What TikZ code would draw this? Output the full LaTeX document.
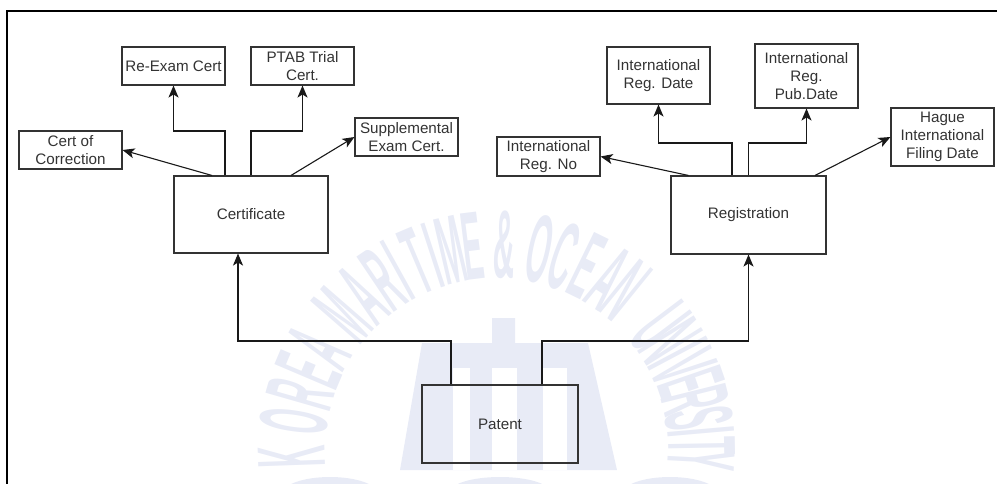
\documentclass[tikz,border=0pt]{standalone}
\usepackage{fontspec}
\setmainfont{Liberation Sans}
\usetikzlibrary{arrows.meta}
\definecolor{ink}{HTML}{333333}
\definecolor{wmark}{HTML}{E8EBF6}
\tikzset{
  x=1pt,y=-1pt,
  box/.style={draw=ink,line width=1.05pt,text=ink,inner sep=0pt,align=center,
    font=\fontsize{15.2}{18}\selectfont,minimum width=#1},
  box/.default=103pt,
  link/.style={draw=black!90,line width=1.1pt,-{Stealth[length=12pt,width=10pt,inset=3pt]}},
  wmletter/.style={text=wmark,inner sep=0pt,font=\fontsize{97}{97}\selectfont\bfseries},
}
\begin{document}
\begin{tikzpicture}
\useasboundingbox (0,0) rectangle (997,484);
% watermark
\begin{scope}
\clip (0,0) rectangle (997,484);
\fill[wmark] (422,343) -- (492,343) -- (492,318) -- (515,318) -- (515,343) -- (588,343) -- (617,470) -- (400,470) -- cycle;
\fill[white] (453,368) rectangle (470,470);
\fill[white] (492,368) rectangle (517,470);
\fill[white] (543,368) rectangle (567,470);
\fill[wmark] (500,492) ellipse (50 and 15);
\fill[wmark] (330,494) ellipse (48 and 17);
\fill[wmark] (670,494) ellipse (48 and 17);
\foreach \ch/\ang [count=\n] in {K/182,O/172,R/164,E/157,A/150,M/139,A/131,R/124,I/119,T/113,I/108,M/103,E/97,\&/88,O/78,C/71,E/64,A/57,N/51,U/37,N/32,I/28,V/24,E/19,R/14,S/9,I/5,T/1,Y/-3}
  \node[wmletter,rotate={\ang-90}] (wm\n) at ({497+205*cos(\ang)},{450-205*sin(\ang)}) {\scalebox{0.31}[1]{\ch}};
\end{scope}
% frame
\coordinate (fa) at (6.5,484);
\coordinate (fb) at (6.5,11);
\coordinate (fc) at (997,11);
\draw[black,line width=2pt] (fa) -- (fb) -- (fc);
% boxes
\node[box,minimum height=38pt] (rex) at (173.5,66) {Re-Exam Cert};
\node[box,minimum height=38pt] (ptab) at (302.5,66) {PTAB Trial\\Cert.};
\node[box,minimum height=38pt] (cor) at (70.5,150) {Cert of\\Correction};
\node[box,minimum height=38pt] (sup) at (406.5,137) {Supplemental\\Exam Cert.};
\node[box=154pt,minimum height=77pt] (cert) at (251,214.5) {Certificate};
\node[box,minimum height=57pt] (ird) at (658.5,75.5) {International\\Reg. Date};
\node[box,minimum height=64pt] (irp) at (806.5,76) {International\\Reg.\\Pub.Date};
\node[box,minimum height=39pt] (irn) at (548.5,156.5) {International\\Reg. No};
\node[box,minimum height=58pt] (hag) at (942.5,137) {Hague\\International\\Filing Date};
\node[box=155pt,minimum height=78pt] (reg) at (748.5,215) {Registration};
\node[box=156pt,minimum height=78pt] (pat) at (500,424) {Patent};
% bends
\coordinate (b1) at (173.5,131);
\coordinate (b2) at (302.5,131);
\coordinate (b3) at (658.5,143);
\coordinate (b4) at (806.5,143);
\coordinate (b5) at (451,341);
\coordinate (b6) at (542,341);
\coordinate (t1) at ([xshift=-26pt]cert.north);
\coordinate (t2) at ([xshift=-39pt]cert.north);
\coordinate (t3) at ([xshift=40pt]cert.north);
\coordinate (t4) at ([xshift=-16.5pt]reg.north);
\coordinate (t5) at ([xshift=-60pt]reg.north);
\coordinate (t6) at ([xshift=66.5pt]reg.north);
\coordinate (p1) at ([xshift=-49pt]pat.north);
\coordinate (p2) at ([xshift=42pt]pat.north);
\coordinate (s1) at ([xshift=-13pt]cert.south);
% connectors
\draw[link] (t1) |- (b1) -- (rex.south);
\draw[link] (cert.north) |- (b2) -- (ptab.south);
\draw[link] (t2) -- (cor.east);
\draw[link] (t3) -- (sup.west);
\draw[link] (t4) |- (b3) -- (ird.south);
\draw[link] (reg.north) |- (b4) -- (irp.south);
\draw[link] (t5) -- (irn.east);
\draw[link] (t6) -- (hag.west);
\draw[link] (p1) |- (s1 |- b5) -- (s1);
\draw[link] (p2) |- (reg.south |- b6) -- (reg.south);
\end{tikzpicture}
\end{document}
